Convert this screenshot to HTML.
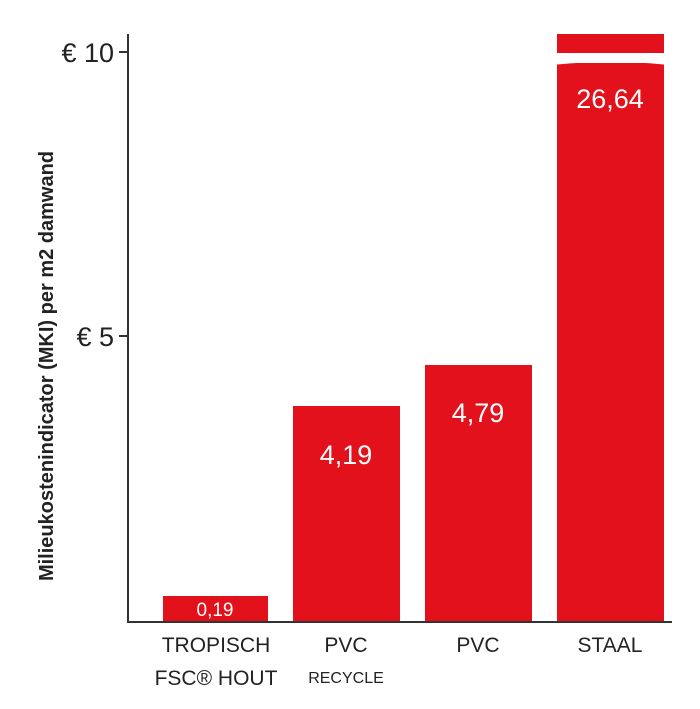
<!DOCTYPE html>
<html><head><style>
body{margin:0;width:700px;height:704px;background:#fff;overflow:hidden;font-family:"Liberation Sans",sans-serif}
</style></head><body>
<svg width="700" height="704" xmlns="http://www.w3.org/2000/svg">
<g fill="#e3111b">
<rect x="163" y="596" width="105" height="26"/>
<rect x="293" y="406" width="107" height="216"/>
<rect x="425" y="365" width="107" height="257"/>
<rect x="557" y="34" width="107" height="19"/>
<rect x="557" y="63" width="107" height="559"/>
</g>
<path d="M557 63 Q610 58 664 63" stroke="#fff" stroke-width="3" fill="none"/>
<line x1="128" y1="34" x2="128" y2="622" stroke="#333" stroke-width="2"/>
<line x1="127" y1="622" x2="672" y2="622" stroke="#333" stroke-width="2"/>
<line x1="119" y1="52" x2="127" y2="52" stroke="#333" stroke-width="2"/>
<line x1="119" y1="336" x2="127" y2="336" stroke="#333" stroke-width="2"/>
<g font-size="27" fill="#222">
<text x="114" y="62" text-anchor="end">€ 10</text>
<text x="114" y="346" text-anchor="end">€ 5</text>
</g>
<g fill="#fff" text-anchor="middle">
<text x="215" y="616" font-size="19">0,19</text>
<text x="346" y="464" font-size="27">4,19</text>
<text x="478" y="422" font-size="27">4,79</text>
<text x="610" y="108" font-size="27">26,64</text>
</g>
<g fill="#222" text-anchor="middle" font-size="21">
<text x="216" y="652">TROPISCH</text>
<text x="216" y="685">FSC® HOUT</text>
<text x="346" y="652">PVC</text>
<text x="346" y="683" font-size="16">RECYCLE</text>
<text x="478" y="652">PVC</text>
<text x="610" y="652">STAAL</text>
</g>
<text transform="translate(53,366) rotate(-90)" text-anchor="middle" font-size="20" font-weight="bold" fill="#222">Milieukostenindicator (MKI) per m2 damwand</text>
</svg>
</body></html>
